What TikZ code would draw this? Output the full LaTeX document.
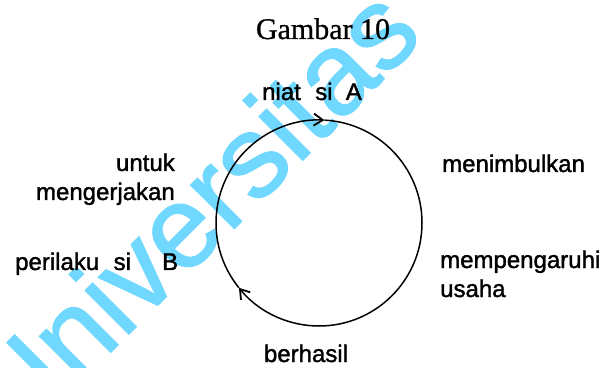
\documentclass[tikz,border=0pt]{standalone}
\usepackage{fontspec}
\setmainfont{Liberation Serif}
\newfontfamily\labelfamily[FakeBold=1.5]{Liberation Sans}
\newfontfamily\markfamily[FakeBold=1.2]{Liberation Sans}
\newfontfamily\titlefamily[FakeBold=0.8]{Liberation Serif}
\usetikzlibrary{arrows.meta,calc}
\definecolor{wmcyan}{RGB}{112,216,255}
\tikzset{
  lbl/.style={inner sep=0pt, font=\labelfamily\fontsize{24}{28}\selectfont},
  ttl/.style={inner sep=0pt, font=\titlefamily\fontsize{30}{34}\selectfont},
  cyc/.style={line width=1.5pt, -{Straight Barb[length=9pt,width=12pt,line width=1.8pt]}},
  wmark/.style={inner sep=0pt, rotate=45, text=wmcyan,
    font=\markfamily\fontsize{116.5}{120}\selectfont}
}
\begin{document}
\begin{tikzpicture}[x=1pt,y=1pt]
  \useasboundingbox (0,0) rectangle (605,367);
  \clip (0,0) rectangle (605,367);
  \fill[white] (0,0) rectangle (605,367);

  % watermark across the page
  \node[wmark, anchor=base west] (wm) at (18,-78) {Universitas};

  % title
  \node[ttl, anchor=base] (title) at (323,328) {Gambar 10};

  % the cycle
  \coordinate (c) at (319,144);
  \coordinate (topA) at ($(c)+(87:103pt)$);
  \coordinate (lowB) at ($(c)+(219:103pt)$);
  \draw[cyc] (lowB) arc[start angle=219, end angle=87, radius=103pt];
  \draw[cyc] (topA) arc[start angle=87, end angle=-141, radius=103pt];

  % labels round the cycle
  \node[lbl, anchor=base] (niat) at (312,267) {niat\hspace{0.6em}si\hspace{0.55em}A};
  \node[lbl, anchor=base east] (untuk) at (175,196) {untuk};
  \node[lbl, anchor=base east] (kerja) at (175,167) {mengerjakan};
  \node[lbl, anchor=base west] (perilaku) at (15,97) {perilaku\hspace{0.6em}si\hspace{1.3em}B};
  \node[lbl, anchor=base west] (timbul) at (442,195) {menimbulkan};
  \node[lbl, anchor=base west] (pengaruh) at (440,99) {mempengaruhi};
  \node[lbl, anchor=base west] (usaha) at (440,70) {usaha};
  \node[lbl, anchor=base] (hasil) at (306,5) {berhasil};
\end{tikzpicture}
\end{document}
